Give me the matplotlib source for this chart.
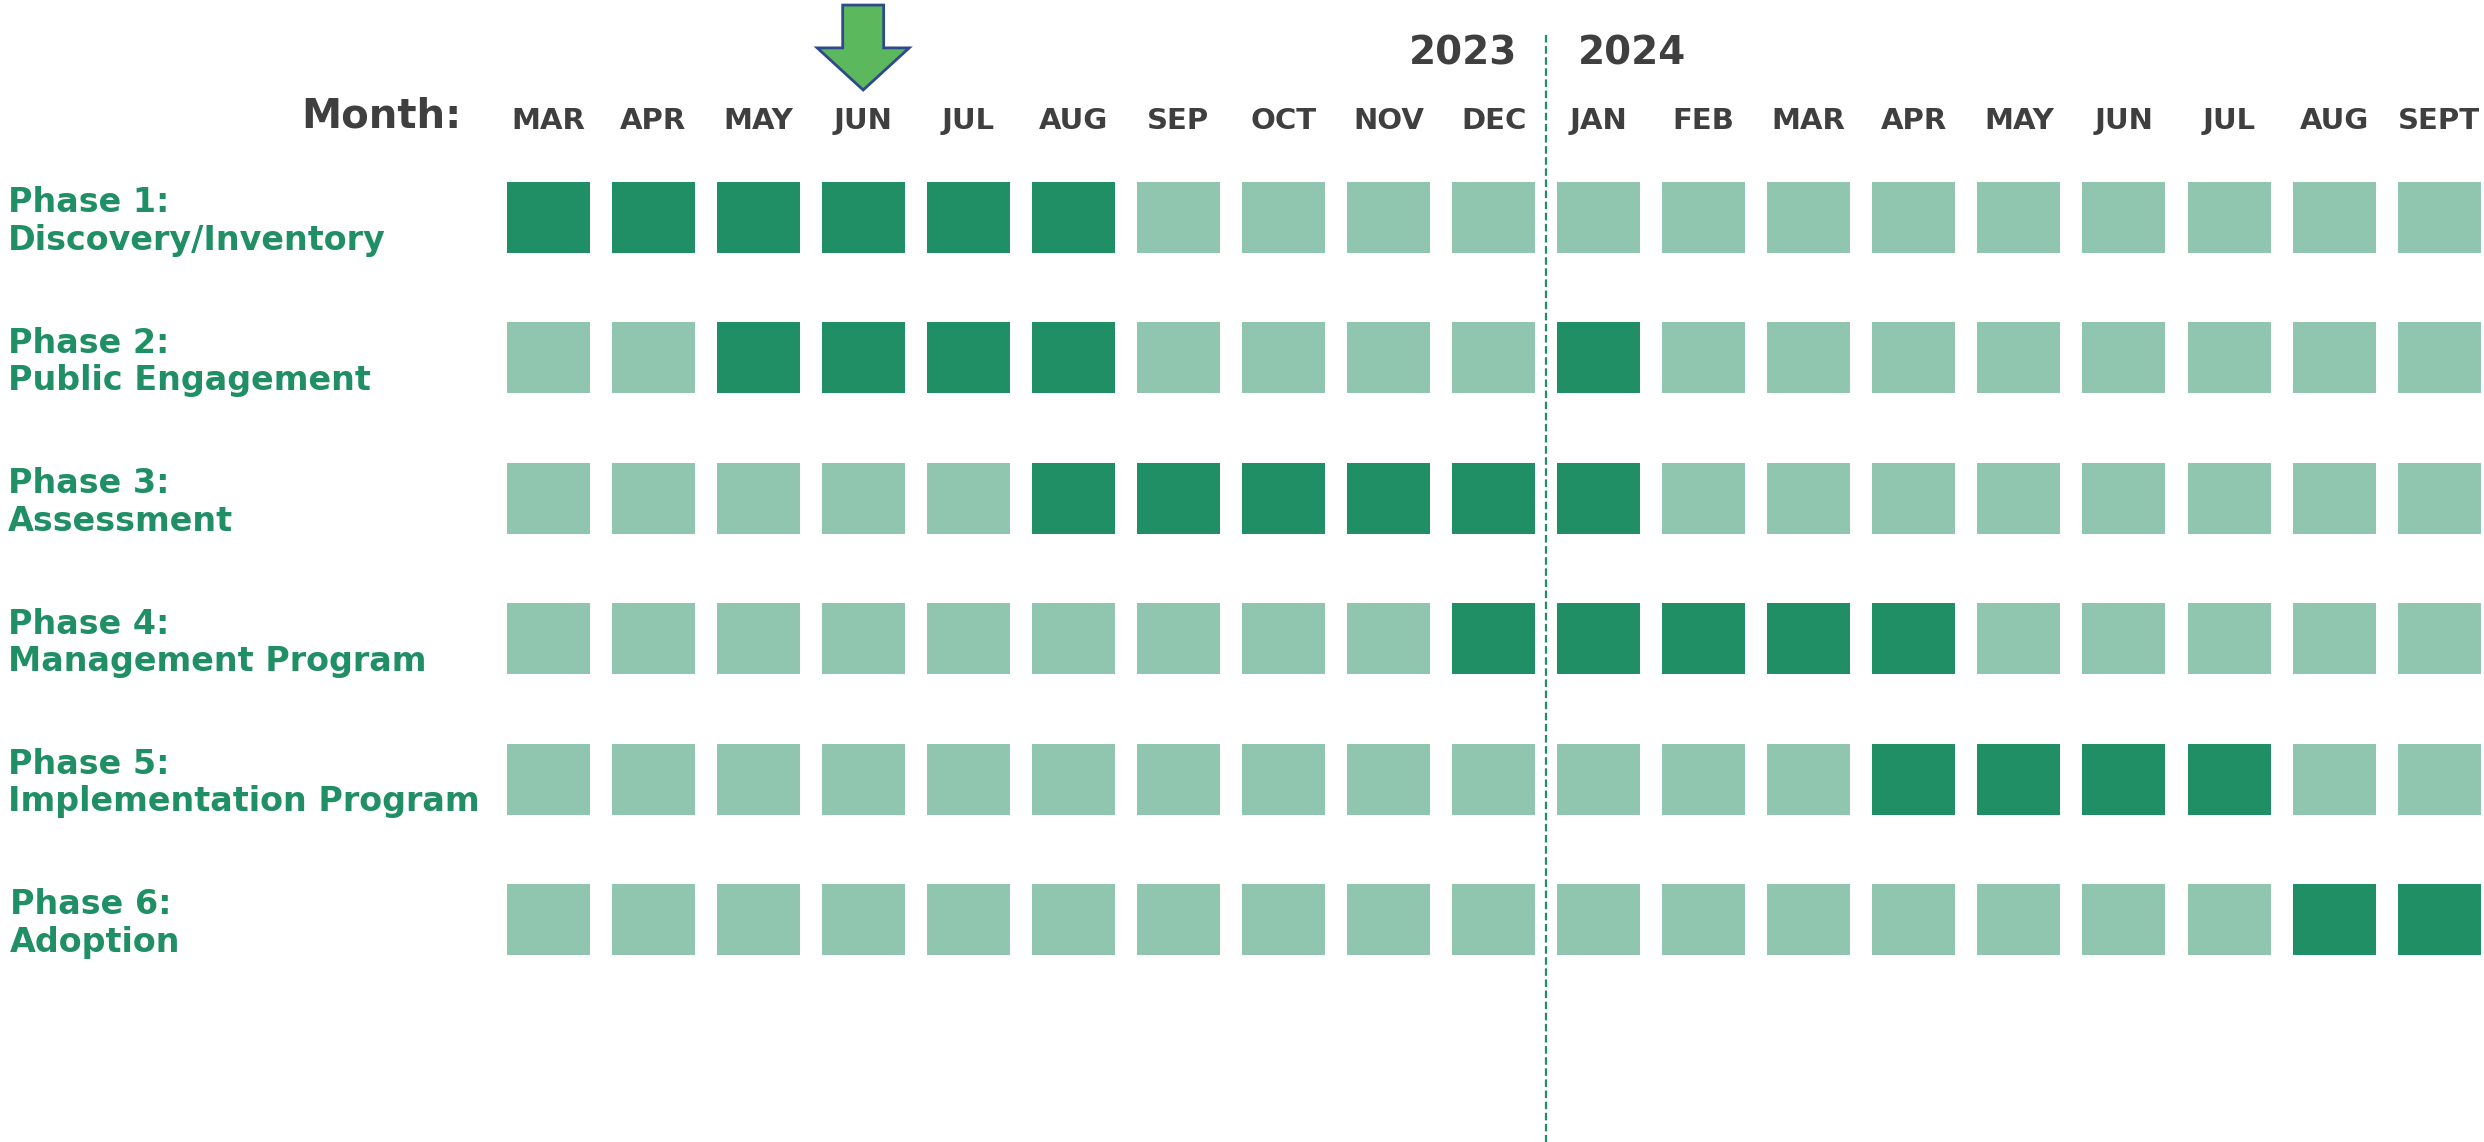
import numpy as np
import matplotlib.pyplot as plt

# months on the timeline (MAR 2023 .. SEPT 2024)
months = ["MAR", "APR", "MAY", "JUN", "JUL", "AUG", "SEP", "OCT", "NOV", "DEC",
          "JAN", "FEB", "MAR", "APR", "MAY", "JUN", "JUL", "AUG", "SEPT"]
phases = ["Phase 1:\nDiscovery/Inventory",
          "Phase 2:\nPublic Engagement",
          "Phase 3:\nAssessment",
          "Phase 4:\nManagement Program",
          "Phase 5:\nImplementation Program",
          "Phase 6:\nAdoption"]
# 1 = active month for that phase
active = [
    [1, 1, 1, 1, 1, 1, 0, 0, 0, 0, 0, 0, 0, 0, 0, 0, 0, 0, 0],
    [0, 0, 1, 1, 1, 1, 0, 0, 0, 0, 1, 0, 0, 0, 0, 0, 0, 0, 0],
    [0, 0, 0, 0, 0, 1, 1, 1, 1, 1, 1, 0, 0, 0, 0, 0, 0, 0, 0],
    [0, 0, 0, 0, 0, 0, 0, 0, 0, 1, 1, 1, 1, 1, 0, 0, 0, 0, 0],
    [0, 0, 0, 0, 0, 0, 0, 0, 0, 0, 0, 0, 0, 1, 1, 1, 1, 0, 0],
    [0, 0, 0, 0, 0, 0, 0, 0, 0, 0, 0, 0, 0, 0, 0, 0, 0, 1, 1],
]
years = ["2023", "2024"]
current_month = 3   # JUN 2023, marked by the arrow

dark = "#208f66"
light = "#90c6b0"
grey = "#3f3f3f"

fig = plt.figure(figsize=(24.84, 11.42), dpi=100)
ax = fig.add_axes([0, 0, 1, 1])
ax.set_xlim(-5.216, 18.427)
ax.set_ylim(6.585, -1.549)
ax.axis('off')

x = np.arange(len(months))
bw, bh = 0.79, 0.506
for j, row in enumerate(active):
    cols = [dark if a else light for a in row]
    ax.bar(x, bh, bottom=j - bh / 2, width=bw, color=cols, linewidth=0)
    lx = -5.12 if j == 5 else -5.14
    ax.text(lx, j + 0.03, phases[j], color=dark, fontsize=24,
            fontweight='bold', va='center', ha='left', linespacing=1.17)

for i, m in enumerate(months):
    ax.text(i, -0.685, m, color=grey, fontsize=21, fontweight='bold',
            ha='center', va='center')
ax.text(-0.828, -0.72, "Month:", color=grey, fontsize=29, fontweight='bold',
        ha='right', va='center')

# year split
split = months.index("DEC") + 0.5
ax.vlines(split, -1.30, 6.585, colors=dark, linewidth=1.6,
          linestyles=(0, (3.4, 1.6)))
ax.text(split - 0.27, -1.165, years[0], color=grey, fontsize=28,
        fontweight='bold', ha='right', va='center')
ax.text(split + 0.30, -1.165, years[1], color=grey, fontsize=28,
        fontweight='bold', ha='left', va='center')

# "you are here" arrow
ax.arrow(current_month, -1.513, 0, 0.605, width=0.39, head_width=0.876,
         head_length=0.30, length_includes_head=True,
         facecolor="#5cb85c", edgecolor="#2e4a8c", linewidth=2)

fig.savefig("out.png", dpi=100)
